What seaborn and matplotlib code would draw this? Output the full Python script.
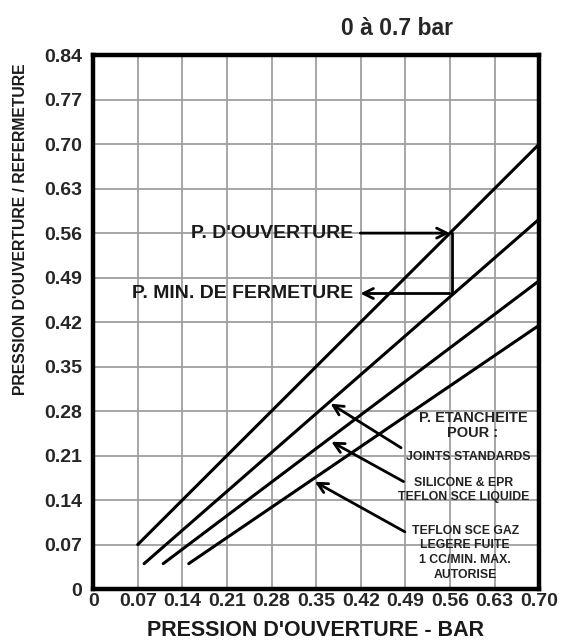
import pandas as pd
import matplotlib
matplotlib.use("Agg")
import matplotlib.pyplot as plt
import seaborn as sns

# tick values / labels
x_ticks = [0, 0.07, 0.14, 0.21, 0.28, 0.35, 0.42, 0.49, 0.56, 0.63, 0.70]
x_labels = ["0", "0.07", "0.14", "0.21", "0.28", "0.35", "0.42", "0.49", "0.56", "0.63", "0.70"]
y_ticks = [0, 0.07, 0.14, 0.21, 0.28, 0.35, 0.42, 0.49, 0.56, 0.63, 0.70, 0.77, 0.84]
y_labels = ["0", "0.07", "0.14", "0.21", "0.28", "0.35", "0.42", "0.49", "0.56", "0.63", "0.70", "0.77", "0.84"]

# the four pressure lines (start / end)
line_names = ["ouverture", "fermeture", "silicone", "teflon"]
x_start = [0.07, 0.08, 0.11, 0.15]
y_start = [0.07, 0.04, 0.04, 0.04]
x_end = [0.70, 0.70, 0.70, 0.70]
y_end = [0.70, 0.582, 0.485, 0.415]

# opening / closing example at 0.56 bar
p_open = 0.56
p_close = 0.465
arrow_tail_x = 0.415

# sealing notes: text, text position, arrow tail, arrow head
note_texts = ["JOINTS STANDARDS",
              "SILICONE & EPR\nTEFLON SCE LIQUIDE",
              "TEFLON SCE GAZ\nLEGERE FUITE\n1 CC/MIN. MAX.\nAUTORISE"]
note_x = [0.589, 0.581, 0.584]
note_y = [0.207, 0.156, 0.057]
tail_x = [0.487, 0.491, 0.493]
tail_y = [0.220, 0.167, 0.088]
head_x = [0.369, 0.370, 0.344]
head_y = [0.294, 0.234, 0.171]

rows = []
for n, xs, ys, xe, ye in zip(line_names, x_start, y_start, x_end, y_end):
    rows.append({"line": n, "x": xs, "y": ys})
    rows.append({"line": n, "x": xe, "y": ye})
df = pd.DataFrame(rows)

sns.set_style("white")
plt.rcParams['font.family'] = ['Liberation Sans', 'DejaVu Sans']

fig = plt.figure(figsize=(5.61, 6.41), dpi=100)
ax = fig.add_axes([0.166, 0.081, 0.795, 0.833])

sns.lineplot(data=df, x="x", y="y", units="line", estimator=None,
             color="black", linewidth=2.2, ax=ax, legend=False)

ax.set_xlim(0, 0.70)
ax.set_ylim(0, 0.84)
ax.set_xticks(x_ticks)
ax.set_xticklabels(x_labels, fontweight="bold", fontsize=14)
ax.set_yticks(y_ticks)
ax.set_yticklabels(y_labels, fontweight="bold", fontsize=14)
ax.tick_params(axis="y", length=0, pad=8)
ax.tick_params(axis="x", length=0, pad=3)
ax.grid(True, color="#9f9f9f", linewidth=1.3)
ax.set_axisbelow(True)
for s in ax.spines.values():
    s.set_linewidth(3.2)
    s.set_color("black")
ax.set_xlabel("")
ax.set_ylabel("")

# opening / closing arrows
ax.annotate("", xy=(p_open + 0.004, p_open), xytext=(arrow_tail_x, p_open),
            arrowprops=dict(arrowstyle="->", color="black", lw=2, mutation_scale=18))
ax.plot([p_open + 0.004, p_open + 0.004], [p_open, p_close], color="black", lw=2)
ax.annotate("", xy=(arrow_tail_x, p_close), xytext=(p_open + 0.004, p_close),
            arrowprops=dict(arrowstyle="->", color="black", lw=2, mutation_scale=18))
ax.text(arrow_tail_x - 0.006, p_open, "P. D'OUVERTURE", ha="right", va="center",
        fontsize=14, fontweight="bold", color="#1a1a1a")
ax.text(arrow_tail_x - 0.006, p_close, "P. MIN. DE FERMETURE", ha="right", va="center",
        fontsize=14, fontweight="bold", color="#1a1a1a")

ax.text(0.596, 0.257, "P. ETANCHEITE\nPOUR :", ha="center", va="center",
        fontsize=10.5, fontweight="bold", color="#222222", linespacing=1.1)
for t, tx, ty, ax0, ay0, hx, hy in zip(note_texts, note_x, note_y, tail_x, tail_y, head_x, head_y):
    ax.annotate("", xy=(hx, hy), xytext=(ax0, ay0),
                arrowprops=dict(arrowstyle="->", color="black", lw=2, mutation_scale=18))
    ax.text(tx, ty, t, ha="center", va="center", fontsize=8.8, fontweight="bold",
            color="#222222", linespacing=1.3)

fig.text(0.708, 0.955, "0 à 0.7 bar", ha="center", va="center", fontsize=16.5, fontweight="bold")
fig.text(0.563, 0.017, "PRESSION D'OUVERTURE - BAR", ha="center", va="center",
         fontsize=15.5, fontweight="bold", color="#1a1a1a")
fig.text(0.036, 0.642, "PRESSION D'OUVERTURE / REFERMETURE", ha="center", va="center",
         rotation=90, fontsize=11.3, fontweight="bold", color="#1a1a1a")

fig.savefig("out.png", dpi=100)
